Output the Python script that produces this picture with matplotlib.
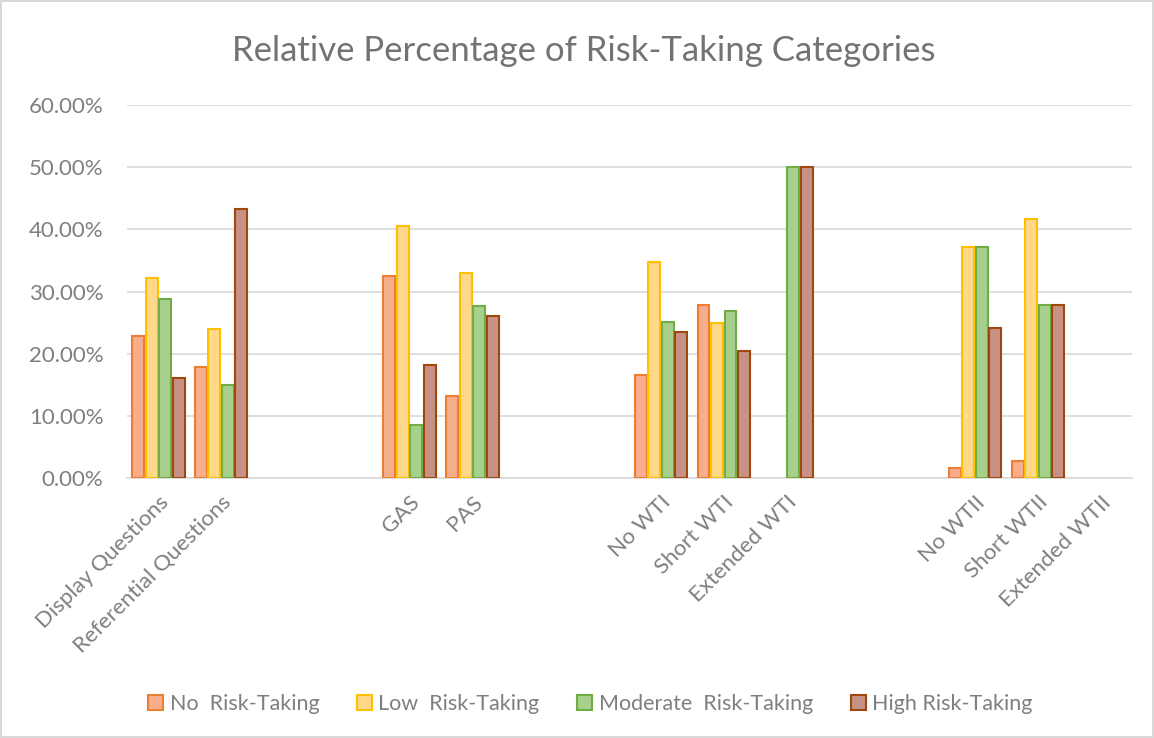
import numpy as np
import matplotlib.pyplot as plt
from matplotlib.ticker import PercentFormatter

# ----------------------------
# DATA
# ----------------------------
nan = np.nan
categories = ["Display Questions", "Referential Questions", "", "",
              "GAS", "PAS", "", "",
              "No WTI", "Short WTI", "Extended WTI", "", "",
              "No WTII", "Short WTII", "Extended WTII"]

no_risk = [22.9, 17.9, nan, nan, 32.5, 13.2, nan, nan, 16.6, 27.8, nan, nan, nan, 1.7, 2.8, nan]
low_risk = [32.2, 23.9, nan, nan, 40.6, 32.9, nan, nan, 34.8, 25.0, nan, nan, nan, 37.1, 41.7, nan]
moderate_risk = [28.8, 15.0, nan, nan, 8.6, 27.7, nan, nan, 25.1, 26.9, 50.0, nan, nan, 37.1, 27.8, nan]
high_risk = [16.1, 43.3, nan, nan, 18.2, 26.1, nan, nan, 23.5, 20.4, 50.0, nan, nan, 24.2, 27.8, nan]

series_names = ["No  Risk-Taking", "Low  Risk-Taking", "Moderate  Risk-Taking", "High Risk-Taking"]
fills = ["#F6AE8C", "#FFD88A", "#A8D08D", "#C79285"]
edges = ["#ED7D31", "#FFC000", "#70AD47", "#9E480E"]

# ----------------------------
# PLOT
# ----------------------------
plt.rcParams['font.family'] = ['Lato', 'DejaVu Sans']
grey = "#7F7F7F"

fig = plt.figure(figsize=(11.54, 7.38), dpi=100)
fig.patch.set_edgecolor("#D9D9D9")
fig.patch.set_linewidth(1.5)
ax = fig.add_axes([0.110, 0.352, 0.871, 0.506])

x = np.arange(len(categories))
bar_w = 0.19
pitch = 0.215
all_series = [no_risk, low_risk, moderate_risk, high_risk]

for i, vals in enumerate(all_series):
    vals = np.array(vals) / 100
    offs = (i - 1.5) * pitch
    ax.bar(x + offs, vals, width=bar_w, color=fills[i], edgecolor=edges[i],
           linewidth=1.5, label=series_names[i], zorder=3)

ax.set_xlim(-0.5, len(categories) - 0.5)
ax.set_ylim(0, 0.6)
ax.set_yticks(np.arange(0, 0.61, 0.1))
ax.yaxis.set_major_formatter(PercentFormatter(1.0, decimals=2))
ax.grid(axis="y", color="#D9D9D9", linewidth=1.2, zorder=0)
for s in ["top", "right", "left"]:
    ax.spines[s].set_visible(False)
ax.spines["bottom"].set_color("#D9D9D9")
ax.spines["bottom"].set_linewidth(1.2)
ax.tick_params(axis="both", length=0, colors=grey, labelsize=16)
ax.tick_params(axis="y", pad=17)

ax.set_xticks(x)
ax.set_xticklabels(categories, rotation=45, ha="right", rotation_mode="anchor")
ax.tick_params(axis="x", pad=10)

fig.suptitle("Relative Percentage of Risk-Taking Categories", color="#737373",
             fontsize=25, x=0.506, y=0.953)

ax.legend(loc="center", bbox_to_anchor=(0.461, -0.605), ncol=4, frameon=False,
          fontsize=15.5, labelcolor=grey, handlelength=0.7, handleheight=0.7,
          handletextpad=0.3, columnspacing=1.75)

plt.savefig("out.png", dpi=100)
